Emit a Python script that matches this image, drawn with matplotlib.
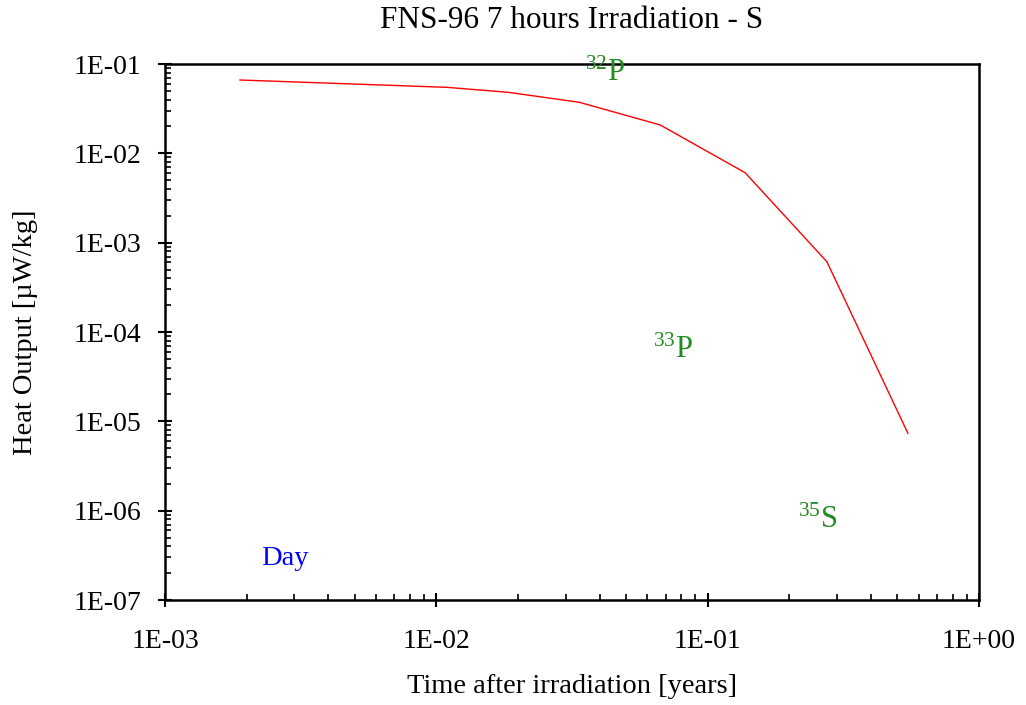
import matplotlib
matplotlib.use("Agg")
import matplotlib.pyplot as plt
from matplotlib.ticker import LogLocator, FixedLocator, NullFormatter

plt.rcParams['font.family'] = ['Liberation Serif', 'DejaVu Serif']
plt.rcParams['mathtext.fontset'] = 'custom'
plt.rcParams['mathtext.rm'] = 'Liberation Serif'
plt.rcParams['mathtext.it'] = 'Liberation Serif:italic'

# data (time in years, heat output in uW/kg)
time_years = [1.89e-3, 1.095e-2, 1.84e-2, 3.36e-2, 6.68e-2, 1.374e-1, 2.75e-1, 5.47e-1]
heat_output = [6.62e-2, 5.48e-2, 4.82e-2, 3.73e-2, 2.08e-2, 6.07e-3, 6.12e-4, 7.35e-6]

xticks = [1e-3, 1e-2, 1e-1, 1e0]
xtick_labels = ["1E-03", "1E-02", "1E-01", "1E+00"]
yticks = [1e-7, 1e-6, 1e-5, 1e-4, 1e-3, 1e-2, 1e-1]
ytick_labels = ["1E-07", "1E-06", "1E-05", "1E-04", "1E-03", "1E-02", "1E-01"]

nuclide_labels = [r"$^{32}$P", r"$^{33}$P", r"$^{35}$S"]
nuclide_x = [0.0419, 0.0745, 0.255]
nuclide_y = [0.079, 6.3e-5, 7.8e-7]

fig = plt.figure(figsize=(10.26, 7.05), dpi=100)
ax = fig.add_axes([165/1026, 1-600/705, (979-165)/1026, (600-64)/705])
ax.set_xscale('log')
ax.set_yscale('log')
ax.plot(time_years, heat_output, color='red', lw=1.0)
ax.set_xlim(1e-3, 1)
ax.set_ylim(1e-7, 1e-1)

ax.xaxis.set_major_locator(FixedLocator(xticks))
ax.set_xticklabels(xtick_labels)
ax.yaxis.set_major_locator(FixedLocator(yticks))
ax.set_yticklabels(ytick_labels)
ax.xaxis.set_minor_locator(LogLocator(base=10, subs=range(2, 10)))
ax.yaxis.set_minor_locator(LogLocator(base=10, subs=range(2, 10)))
ax.xaxis.set_minor_formatter(NullFormatter())
ax.yaxis.set_minor_formatter(NullFormatter())
ax.tick_params(which='major', direction='inout', length=10, width=1.5, labelsize=20)
ax.tick_params(axis='y', which='major', pad=12)
ax.tick_params(axis='x', which='major', pad=16)
ax.tick_params(which='minor', direction='in', length=4, width=1.2)
ax.tick_params(top=False, right=False, which='both')
for s in ax.spines.values():
    s.set_linewidth(1.8)

ax.set_title("FNS-96 7 hours Irradiation - S", fontsize=22.5, pad=26)
ax.set_xlabel("Time after irradiation [years]", fontsize=20.5, labelpad=14)
ax.set_ylabel("Heat Output [\u00b5W/kg]", fontsize=20.5, labelpad=26)

for lab, x, y in zip(nuclide_labels, nuclide_x, nuclide_y):
    ax.text(x, y, lab, color='#228B22', fontsize=22, ha='center', va='center', clip_on=False)
ax.text(2.77e-3, 2.95e-7, "Day", color='blue', fontsize=20.5, ha='center', va='center')

fig.savefig("out.png", dpi=100)
